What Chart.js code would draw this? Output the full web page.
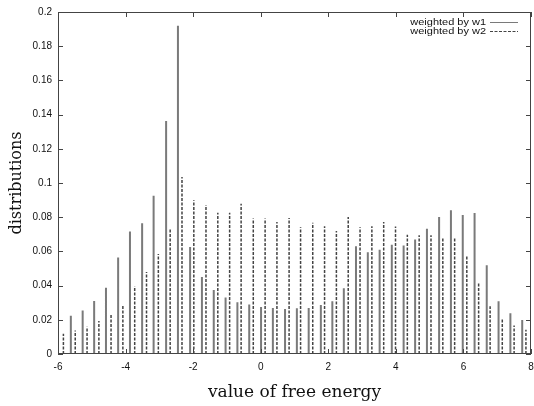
<!DOCTYPE html>
<html>
<head>
<meta charset="utf-8">
<script src="https://cdn.jsdelivr.net/npm/chart.js@4/dist/chart.umd.min.js"></script>
<style>
html,body{margin:0;padding:0;background:#fff;}
#wrap{width:534px;height:406px;}
</style>
</head>
<body>
<div id="wrap"><canvas id="c" width="534" height="406"></canvas></div>
<script>
// ---- data ----
const seriesLabels = ["weighted by w1", "weighted by w2"];

const w1X = [-5.62,-5.27,-4.93,-4.58,-4.22,-3.87,-3.51,-3.17,-2.80,-2.45,
             -2.09,-1.74,-1.39,-1.04,-0.69,-0.34,0.01,0.36,0.72,1.07,
             1.42,1.78,2.12,2.46,2.82,3.17,3.52,3.88,4.23,4.57,
             4.92,5.28,5.63,5.98,6.33,6.69,7.04,7.39,7.74];
const w1Y = [0.0224,0.0255,0.0310,0.0388,0.0565,0.0717,0.0764,0.0926,0.1363,0.1920,
             0.0626,0.0450,0.0374,0.0331,0.0302,0.0290,0.0275,0.0269,0.0263,0.0267,
             0.0269,0.0287,0.0308,0.0384,0.0630,0.0595,0.0610,0.0639,0.0635,0.0669,
             0.0733,0.0801,0.0840,0.0813,0.0825,0.0519,0.0308,0.0238,0.0199];

const w2X = [-5.84,-5.49,-5.14,-4.79,-4.43,-4.08,-3.73,-3.38,-3.03,-2.68,
             -2.33,-1.98,-1.62,-1.27,-0.92,-0.58,-0.22,0.13,0.48,0.84,
             1.18,1.54,1.89,2.24,2.59,2.94,3.29,3.64,3.99,4.34,
             4.69,5.04,5.39,5.74,6.10,6.45,6.79,7.15,7.50,7.85];
const w2Y = [0.0119,0.0138,0.0160,0.0193,0.0236,0.0289,0.0396,0.0480,0.0585,0.0737,
             0.1035,0.0899,0.0871,0.0826,0.0826,0.0879,0.0793,0.0793,0.0772,0.0795,
             0.0741,0.0768,0.0747,0.0719,0.0801,0.0741,0.0747,0.0772,0.0745,0.0698,
             0.0694,0.0694,0.0682,0.0676,0.0577,0.0415,0.0279,0.0207,0.0166,0.0142];

const xTicks = [-6,-4,-2,0,2,4,6,8];
const yTicks = [0,0.02,0.04,0.06,0.08,0.1,0.12,0.14,0.16,0.18,0.2];
const xTitle = "value of free energy";
const yTitle = "distributions";

// impulses: each value becomes a vertical segment from 0 to the value
function impulses(xs, ys){
  const pts = [];
  xs.forEach((x,i)=>{ pts.push({x:x,y:0}); pts.push({x:x,y:ys[i]}); pts.push({x:x,y:null}); });
  return pts;
}

const AXIS = '#444';
const frameAndTicks = {
  id:'frameAndTicks',
  afterDatasetsDraw(chart){
    const {ctx, chartArea:a, scales:{x,y}} = chart;
    ctx.save();
    ctx.strokeStyle = AXIS; ctx.lineWidth = 1;
    ctx.strokeRect(a.left+0.5, a.top+0.5, a.right-a.left-1, a.bottom-a.top-1);
    const L = 5;
    ctx.beginPath();
    xTicks.forEach(v=>{
      const px = Math.round(x.getPixelForValue(v))+0.5;
      ctx.moveTo(px,a.bottom); ctx.lineTo(px,a.bottom-L);
      ctx.moveTo(px,a.top); ctx.lineTo(px,a.top+L);
    });
    yTicks.forEach(v=>{
      const py = Math.round(y.getPixelForValue(v))+0.5;
      ctx.moveTo(a.left,py); ctx.lineTo(a.left+L,py);
      ctx.moveTo(a.right,py); ctx.lineTo(a.right-L,py);
    });
    ctx.stroke();
    // key (legend) in gnuplot style: text right-aligned, sample line to the right
    const sx1 = a.right - 41, sx2 = a.right - 13;
    chart.data.datasets.forEach((ds,i)=>{
      const cy = a.top + 10 + i*8.7;
      ctx.save();
      ctx.translate(sx1-4, cy);
      ctx.scale(1.22,1);
      ctx.font = '9px "Liberation Sans", Arial, sans-serif';
      ctx.fillStyle = '#111';
      ctx.textAlign = 'right'; ctx.textBaseline = 'middle';
      ctx.fillText(ds.label, 0, 0.5);
      ctx.restore();
      ctx.save();
      ctx.strokeStyle = ds.borderColor; ctx.lineWidth = 1;
      ctx.setLineDash(ds.borderDash || []);
      ctx.beginPath(); ctx.moveTo(sx1, Math.round(cy)+0.5); ctx.lineTo(sx2, Math.round(cy)+0.5); ctx.stroke();
      ctx.restore();
    });
    ctx.restore();
  }
};

const tickFont = {family:'"Liberation Sans", Arial, sans-serif', size:10};
const serif = '"DejaVu Serif", "Liberation Serif", serif';

new Chart(document.getElementById('c'), {
  type:'line',
  data:{
    datasets:[
      {label:seriesLabels[0], data:impulses(w1X,w1Y), borderColor:'#7a7a7a', borderWidth:2,
       pointRadius:0, spanGaps:false, tension:0, fill:false},
      {label:seriesLabels[1], data:impulses(w2X,w2Y), borderColor:'#444', borderWidth:1.5,
       borderDash:[3,1.5], pointRadius:0, spanGaps:false, tension:0, fill:false}
    ]
  },
  options:{
    responsive:false, animation:false,
    layout:{padding:{top:12,right:3,left:0,bottom:0}},
    plugins:{legend:{display:false}, tooltip:{enabled:false}},
    scales:{
      x:{type:'linear', min:-6, max:8,
         afterBuildTicks(s){ s.ticks = xTicks.map(v=>({value:v})); },
         afterFit(s){ s.height = 52; s.paddingLeft = 0; s.paddingRight = 0; },
         grid:{display:false, drawTicks:false},
         border:{display:false},
         ticks:{font:tickFont, color:'#111', padding:7, maxRotation:0,
                callback:(v)=>String(v)},
         title:{display:true, text:xTitle, font:{family:serif, size:17}, color:'#111', padding:{top:0,bottom:3}}},
      y:{type:'linear', min:0, max:0.2,
         afterBuildTicks(s){ s.ticks = yTicks.map(v=>({value:v})); },
         afterFit(s){ s.width = 58; },
         grid:{display:false, drawTicks:false},
         border:{display:false},
         ticks:{font:tickFont, color:'#111', padding:6,
                callback:(v)=>String(+(+v).toFixed(2))},
         title:{display:true, text:yTitle, font:{family:serif, size:16}, color:'#111', padding:{top:7,bottom:0}}}
    }
  },
  plugins:[frameAndTicks]
});
</script>
</body>
</html>
